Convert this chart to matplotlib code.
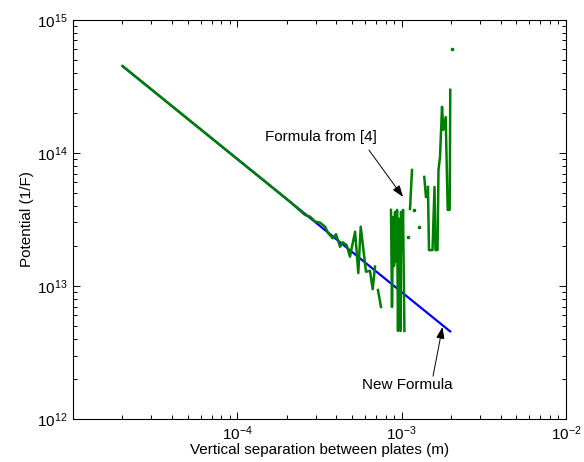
import numpy as np
import matplotlib
matplotlib.use("Agg")
import matplotlib.pyplot as plt

plt.rcParams['font.family'] = ['Liberation Sans', 'DejaVu Sans']
plt.rcParams['mathtext.fontset'] = 'custom'
plt.rcParams['mathtext.rm'] = 'Liberation Sans'
plt.rcParams['mathtext.it'] = 'Liberation Sans'
plt.rcParams['mathtext.default'] = 'regular'

nan = np.nan

# New Formula (blue)
new_x = [2.0e-5, 2.0e-3]
new_y = [4.5e14, 4.5e12]

# Formula from [4] (green), NaN = gap
old_x = [2.0e-5, 2.09e-4, 2.58e-4, 2.77e-4, 2.97e-4, 3.19e-4, 3.42e-4, 3.58e-4,
         3.81e-4, 3.99e-4, 4.22e-4, 4.38e-4, 4.63e-4, 4.85e-4, 5.21e-4, 5.45e-4,
         5.64e-4, 6.07e-4, 6.42e-4, 6.67e-4, 6.89e-4, nan,
         7.18e-4, 7.49e-4, nan,
         8.62e-4, 8.74e-4, 8.87e-4, 8.99e-4, 9.12e-4, 9.24e-4, 9.38e-4, 9.51e-4,
         9.64e-4, 9.85e-4, 9.92e-4, 1.006e-3, 1.020e-3, 1.040e-3, nan,
         1.125e-3, 1.157e-3, nan,
         1.374e-3, 1.407e-3, nan,
         1.447e-3, 1.468e-3, 1.542e-3, 1.586e-3, 1.608e-3, 1.654e-3, 1.677e-3,
         1.713e-3, 1.762e-3, 1.794e-3, 1.855e-3, 1.908e-3, 1.962e-3, 1.978e-3]
old_y = [4.5e14, 4.30e13, 3.42e13, 3.32e13, 3.05e13, 2.99e13, 2.79e13, 2.49e13,
         2.28e13, 2.45e13, 1.97e13, 2.13e13, 2.03e13, 1.66e13, 2.56e13, 1.25e13,
         2.79e13, 1.28e13, 1.30e13, 9.45e12, 1.40e13, nan,
         9.33e12, 6.95e12, nan,
         3.73e13, 6.95e12, 3.30e13, 1.41e13, 3.60e13, 1.52e13, 3.73e13, 4.59e12,
         3.20e13, 4.59e12, 3.60e13, 1.86e13, 3.73e13, 4.59e12, nan,
         3.79e13, 7.45e13, nan,
         6.60e13, 4.67e13, nan,
         5.55e13, 1.86e13, 1.86e13, 5.55e13, 1.86e13, 1.86e13, 7.45e13,
         9.33e13, 2.22e14, 1.49e14, 1.86e14, 3.73e13, 3.73e13, 2.98e14]

# isolated single samples of the green series
dot_x = [1.094e-3, 1.19e-3, 1.276e-3, 2.026e-3]
dot_y = [2.34e13, 3.73e13, 2.78e13, 6.05e14]

green = (0, 0.5, 0)

fig = plt.figure(figsize=(5.84, 4.62), dpi=100)
ax = fig.add_axes([0.125, 0.093, 0.844, 0.864])

ax.plot(new_x, new_y, color=(0, 0, 1), lw=1.6, solid_capstyle='butt')
ax.plot(old_x, old_y, color=green, lw=1.8)
ax.plot(dot_x, dot_y, linestyle='none', marker='s', ms=2, color=green, mec=green)

ax.set_xscale('log')
ax.set_yscale('log')
ax.set_xlim(1e-5, 1e-2)
ax.set_ylim(1e12, 1e15)
ax.set_xticks([1e-4, 1e-3, 1e-2])
ax.set_yticks([1e12, 1e13, 1e14, 1e15])

ax.tick_params(which='both', direction='in', top=True, right=True, labelsize=11, width=0.7)
ax.tick_params(which='major', length=5, pad=4)
ax.tick_params(which='minor', length=3)
for s in ax.spines.values():
    s.set_linewidth(0.8)

ax.set_xlabel('Vertical separation between plates (m)', fontsize=11, labelpad=0)
ax.set_ylabel('Potential (1/F)', fontsize=11, labelpad=2)

ax.text(1.475e-4, 1.32e14, 'Formula from [4]', fontsize=11, va='center', ha='left')
ax.annotate('', xy=(1.02e-3, 4.67e13), xytext=(6.33e-4, 1.05e14),
            arrowprops=dict(arrowstyle='-|>,head_length=0.7,head_width=0.25',
                            color='black', lw=0.7, shrinkA=0, shrinkB=0))
ax.text(5.74e-4, 1.80e12, 'New Formula', fontsize=11, va='center', ha='left')
ax.annotate('', xy=(1.774e-3, 4.92e12), xytext=(1.553e-3, 2.10e12),
            arrowprops=dict(arrowstyle='-|>,head_length=0.7,head_width=0.25',
                            color='black', lw=0.7, shrinkA=0, shrinkB=0))

fig.savefig('out.png', dpi=100)
